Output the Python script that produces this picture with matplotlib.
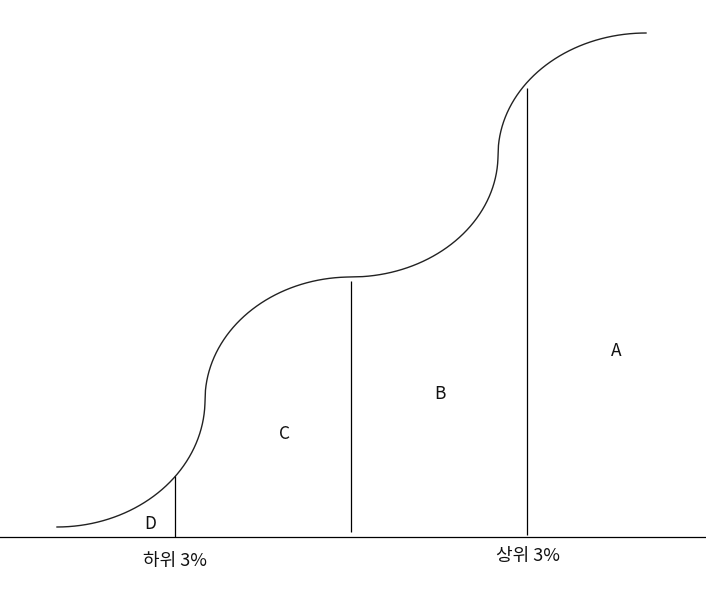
import numpy as np
import matplotlib
matplotlib.use("Agg")
import matplotlib.pyplot as plt

plt.rcParams['font.family'] = ['Noto Sans CJK KR', 'DejaVu Sans']

# Knots of the S-shaped cumulative curve (pixel-like units, y grows downward)
knot_x = [57, 205, 351, 498, 646]
knot_y = [527, 400, 277, 155, 33]
# Segment shapes: 'rise' starts flat and ends vertical, 'level' starts vertical and ends flat
seg_kind = ['rise', 'level', 'rise', 'level']

# Vertical dividers: x, top, bottom
div_x = [175, 351, 527]
div_top = [476, 281, 88]
div_bottom = [537, 532, 535]

baseline_y = 537

region_labels = ['D', 'C', 'B', 'A']
region_x = [150, 284, 440, 616]
region_y = [524, 434, 394, 351]

pct_labels = ['하위 3%', '상위 3%']
pct_x = [175, 528]
pct_y = [561, 556]

fig = plt.figure(figsize=(7.06, 5.99), dpi=100)
ax = fig.add_axes([0, 0, 1, 1])
ax.set_xlim(0, 706)
ax.set_ylim(599, 0)
ax.axis('off')

t = np.linspace(0, np.pi / 2, 200)
xs, ys = [], []
for i, kind in enumerate(seg_kind):
    x0, y0 = knot_x[i], knot_y[i]
    x1, y1 = knot_x[i + 1], knot_y[i + 1]
    rx, ry = x1 - x0, y0 - y1
    if kind == 'rise':
        sx = x0 + rx * np.sin(t)
        sy = y1 + ry * np.cos(t)
    else:
        sx = x1 - rx * np.cos(t)
        sy = y0 - ry * np.sin(t)
    xs.append(sx)
    ys.append(sy)
ax.plot(np.concatenate(xs), np.concatenate(ys), color='#222222', lw=1.0)

ax.axhline(baseline_y, color='black', lw=0.9)
ax.vlines(div_x, div_top, div_bottom, color='black', lw=0.9)

for lab, x, y in zip(region_labels, region_x, region_y):
    ax.text(x, y, lab, ha='center', va='center', fontsize=12.5, color='#111111')
for lab, x, y in zip(pct_labels, pct_x, pct_y):
    ax.text(x, y, lab, ha='center', va='center', fontsize=13, color='#111111')

fig.savefig('out.png', dpi=100, facecolor='white')
